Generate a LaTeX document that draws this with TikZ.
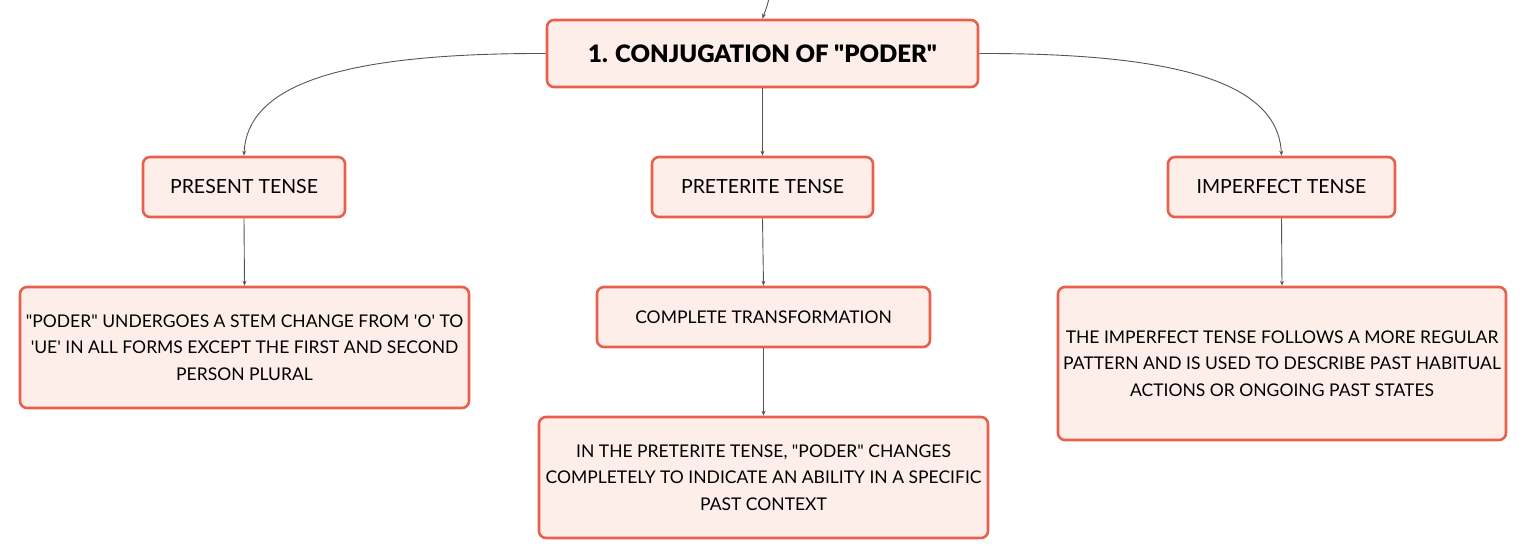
\documentclass[tikz,border=0pt]{standalone}
\usepackage{fontspec}
\setmainfont{Lato}[Ligatures=TeXOff]
\newfontfamily\blackfont{Lato Black}[Ligatures=TeXOff]
\usetikzlibrary{arrows.meta}
\definecolor{bordc}{HTML}{E8604C}
\definecolor{fillc}{HTML}{FDEEEA}
\definecolor{linec}{HTML}{555555}
\tikzset{
  box/.style={draw=bordc, fill=fillc, line width=2.6pt, rounded corners=7pt, align=center, inner sep=0pt, font=\fontsize{17.5}{26.5}\selectfont, text=black},
  tensebox/.style={box, font=\fontsize{19.5}{24}\selectfont},
  rootbox/.style={box, font=\fontsize{24}{28}\selectfont\blackfont},
  conn/.style={draw=linec, line width=0.9pt, -{Stealth[length=5pt,width=4pt]}}
}
\begin{document}
\begin{tikzpicture}[x=1pt,y=-1pt]
\useasboundingbox (0,0) rectangle (1527,559);
\node[rootbox, minimum width=431pt, minimum height=67pt] (root) at (762.5,53.5) {1. CONJUGATION OF "PODER"};
\node[tensebox, minimum width=202pt, minimum height=60pt] (pres) at (244,187) {PRESENT TENSE};
\node[tensebox, minimum width=221pt, minimum height=60pt] (pret) at (762.5,187) {PRETERITE TENSE};
\node[tensebox, minimum width=227pt, minimum height=60pt] (impf) at (1281.5,187) {IMPERFECT TENSE};
\node[box, minimum width=449pt, minimum height=121pt] (presd) at (244.5,347.5) {"PODER" UNDERGOES A STEM CHANGE FROM 'O' TO\\ 'UE' IN ALL FORMS EXCEPT THE FIRST AND SECOND\\ PERSON PLURAL};
\node[box, minimum width=333pt, minimum height=60pt] (comp) at (763.5,317) {COMPLETE TRANSFORMATION};
\node[box, minimum width=449pt, minimum height=121pt] (pretd) at (763.5,477.5) {IN THE PRETERITE TENSE, "PODER" CHANGES\\ COMPLETELY TO INDICATE AN ABILITY IN A SPECIFIC\\ PAST CONTEXT};
\node[box, minimum width=448pt, minimum height=153pt] (impfd) at (1282,363.5) {THE IMPERFECT TENSE FOLLOWS A MORE REGULAR\\ PATTERN AND IS USED TO DESCRIBE PAST HABITUAL\\ ACTIONS OR ONGOING PAST STATES};
\coordinate (top) at (769,-2);
\draw[conn] (top) .. controls (767,8) and (764,14) .. (root.north);
\draw[conn] (root.west) .. controls (340,53) and (247,85) .. (pres.north);
\draw[conn] (root.east) .. controls (1185,53) and (1278,85) .. (impf.north);
\draw[conn] (root.south) -- (pret.north);
\draw[conn] (pres.south) -- (presd.north);
\draw[conn] (pret.south) -- (comp.north);
\draw[conn] (comp.south) -- (pretd.north);
\draw[conn] (impf.south) -- (impfd.north);
\end{tikzpicture}
\end{document}
